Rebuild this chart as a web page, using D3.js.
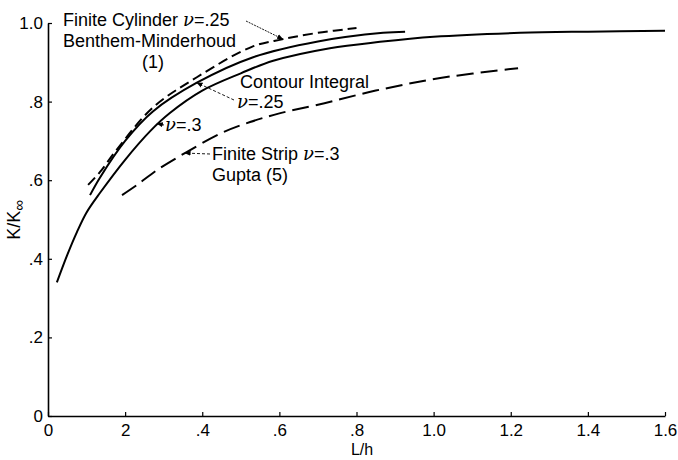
<!DOCTYPE html>
<html>
<head>
<meta charset="utf-8">
<script src="https://cdn.jsdelivr.net/npm/d3@7"></script>
<style>
  body { margin: 0; background: #fff; }
  text { font-family: "Liberation Sans", Arial, sans-serif; fill: #000; }
</style>
</head>
<body>
<div id="canvas"></div>
<script>
// L/h values and K/K-infinity
var cylX = [0.104, 0.135, 0.18, 0.272, 0.386, 0.53, 0.61, 0.70, 0.80];
var cylY = [0.588, 0.621, 0.68, 0.785, 0.862, 0.94, 0.959, 0.975, 0.987];

var contX = [0.109, 0.135, 0.20, 0.272, 0.386, 0.532, 0.70, 0.869, 0.926];
var contY = [0.562, 0.607, 0.70, 0.775, 0.848, 0.913, 0.953, 0.975, 0.978];

var nu3X = [0.023, 0.05, 0.075, 0.10, 0.135, 0.20, 0.265, 0.316, 0.40, 0.50, 0.584, 0.731, 0.861, 1.0, 1.224, 1.40, 1.60];
var nu3Y = [0.34, 0.41, 0.468, 0.518, 0.568, 0.652, 0.725, 0.771, 0.828, 0.872, 0.904, 0.936, 0.952, 0.965, 0.975, 0.978, 0.98];

var stripX = [0.192, 0.231, 0.283, 0.355, 0.45, 0.524, 0.60, 0.70, 0.85, 1.017, 1.219];
var stripY = [0.562, 0.588, 0.626, 0.669, 0.72, 0.748, 0.77, 0.792, 0.828, 0.86, 0.885];

var xTicks = [0, 0.2, 0.4, 0.6, 0.8, 1.0, 1.2, 1.4, 1.6];
var xTickLabels = ["0", "2", ".4", ".6", ".8", "1.0", "1.2", "1.4", "1.6"];
var yTicks = [0, 0.2, 0.4, 0.6, 0.8, 1.0];
var yTickLabels = ["0", ".2", ".4", ".6", ".8", "1.0"];

var width = 678, height = 460;
var svg = d3.select("#canvas").append("svg").attr("width", width).attr("height", height);

var x = d3.scaleLinear().domain([0, 1.6]).range([48, 665]);
var y = d3.scaleLinear().domain([0, 1]).range([416, 23]);

svg.append("g").attr("transform", "translate(0," + y(0) + ")")
	.call(d3.axisBottom(x).tickValues(xTicks).tickSize(-4).tickSizeOuter(0).tickPadding(8)
		.tickFormat(function(d, i) { return xTickLabels[i]; }));
svg.append("g").attr("transform", "translate(" + x(0) + ",0)")
	.call(d3.axisLeft(y).tickValues(yTicks).tickSize(-4).tickSizeOuter(0).tickPadding(5)
		.tickFormat(function(d, i) { return yTickLabels[i]; }));

svg.selectAll(".domain").attr("stroke", "#000").attr("stroke-width", 1.6);
svg.selectAll(".tick line").attr("stroke", "#000").attr("stroke-width", 1.2);
svg.selectAll(".tick text").style("font-size", "17px").style("font-family", "Liberation Sans, Arial, sans-serif");

var line = d3.line().curve(d3.curveCatmullRom.alpha(0.5))
	.x(function(d) { return x(d[0]); })
	.y(function(d) { return y(d[1]); });

var zip = function(a, b) { return a.map(function(v, i) { return [v, b[i]]; }); };

var curves = [
	{ pts: zip(cylX, cylY), dash: "10,5", w: 2 },
	{ pts: zip(contX, contY), dash: null, w: 2 },
	{ pts: zip(nu3X, nu3Y), dash: null, w: 2 },
	{ pts: zip(stripX, stripY), dash: "17,7", w: 2 }
];

curves.forEach(function(c) {
	svg.append("path").attr("d", line(c.pts))
		.attr("fill", "none")
		.attr("stroke", "#000")
		.attr("stroke-width", c.w)
		.attr("stroke-dasharray", c.dash);
});

// arrowheads
svg.append("defs").append("marker")
	.attr("id", "arr")
	.attr("viewBox", "0 0 10 10")
	.attr("refX", 9).attr("refY", 5)
	.attr("markerWidth", 7).attr("markerHeight", 7)
	.attr("orient", "auto")
	.append("path").attr("d", "M0,1 L10,5 L0,9 Z").attr("fill", "#000");

var arrow = function(x1, y1, x2, y2, dash) {
	svg.append("line").attr("x1", x1).attr("y1", y1).attr("x2", x2).attr("y2", y2)
		.attr("stroke", "#000").attr("stroke-width", 0.9)
		.attr("stroke-dasharray", dash)
		.attr("marker-end", "url(#arr)");
};

var label = function(tx, ty, parts, size) {
	var t = svg.append("text").attr("x", tx).attr("y", ty).style("font-size", (size || 18) + "px");
	parts.forEach(function(p) {
		var s = t.append("tspan").text(p.t);
		if (p.it) s.style("font-style", "italic").style("font-family", "DejaVu Serif, serif");
	});
	return t;
};

label(63, 26, [{ t: "Finite Cylinder " }, { t: "ν", it: true }, { t: "=.25" }]);
label(63, 47, [{ t: "Benthem-Minderhoud" }]);
label(142, 68, [{ t: "(1)" }]);
arrow(246, 21, x(0.609), y(0.959), "2,1");

label(240, 88, [{ t: "Contour Integral" }]);
label(237, 108, [{ t: "ν", it: true }, { t: "=.25" }]);
arrow(234, 100, x(0.386), y(0.848), "3,2");

label(165, 131, [{ t: "ν", it: true }, { t: "=.3" }]);
arrow(164, 125, x(0.283), y(0.744), null);

label(212, 160, [{ t: "Finite Strip " }, { t: "ν", it: true }, { t: "=.3" }]);
label(212, 181, [{ t: "Gupta (5)" }]);
arrow(210, 154, x(0.355), y(0.669), "3,2");

// axis titles
svg.append("text").attr("x", 362).attr("y", 455).attr("text-anchor", "middle")
	.style("font-size", "16px").text("L/h");

var yl = svg.append("text").attr("transform", "translate(20,220) rotate(-90)")
	.attr("text-anchor", "middle").style("font-size", "18px");
yl.append("tspan").text("K/K");
yl.append("tspan").attr("dy", 4).style("font-size", "15px").text("∞");
</script>
</body>
</html>
